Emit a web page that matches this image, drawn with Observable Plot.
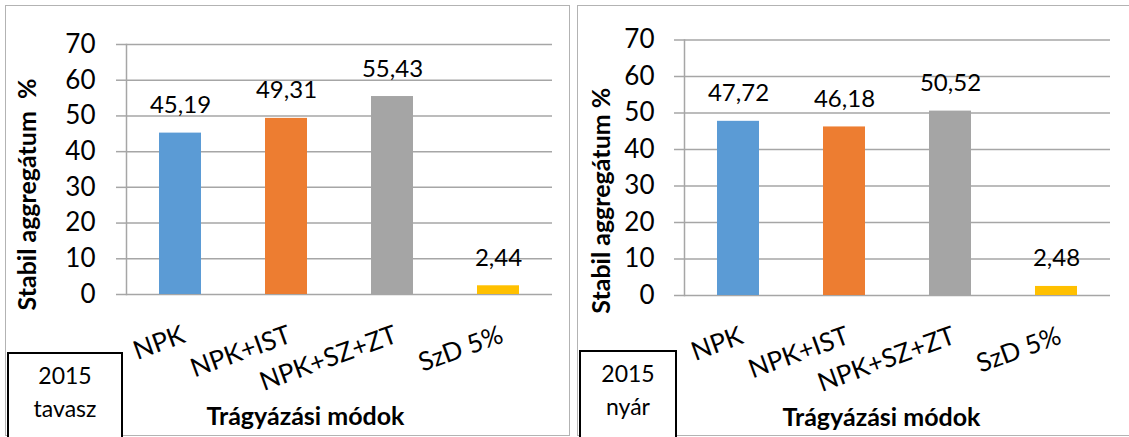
<!DOCTYPE html>
<html>
<head>
<meta charset="utf-8">
<script src="https://cdn.jsdelivr.net/npm/d3@7"></script>
<script src="https://cdn.jsdelivr.net/npm/@observablehq/plot@0.6"></script>
<style>
  html, body { margin: 0; padding: 0; background: #fff; }
  body { width: 1129px; height: 437px; position: relative; overflow: hidden; font-family: Lato, "Open Sans", sans-serif; }
  .panel { position: absolute; border: 1.5px solid #b3b3b3; box-sizing: border-box; }
  .chart { position: absolute; top: 0; }
  .box { position: absolute; border: 2px solid #000; box-sizing: border-box; background: #fff;
         font-size: 23px; text-align: center; line-height: 33px; color: #000; padding-top: 5px; }
</style>
</head>
<body>
<div class="panel" style="left:5px; top:5px; width:565px; height:431px;"></div>
<div class="panel" style="left:577px; top:5px; width:560px; height:431px;"></div>
<div id="c1" class="chart" style="left:0px;"></div>
<div id="c2" class="chart" style="left:572px;"></div>
<div class="box" id="b1" style="left:7px; top:352px; width:116px; height:90px;"></div>
<div class="box" id="b2" style="left:579px; top:350px; width:98px; height:92px;"></div>
<script>
const categories = ["NPK", "NPK+IST", "NPK+SZ+ZT", "SzD 5%"];
const tavasz = [45.19, 49.31, 55.43, 2.44];
const nyar = [47.72, 46.18, 50.52, 2.48];
const barColors = ["#5B9BD5", "#ED7D31", "#A5A5A5", "#FFC000"];
const yTicks = [0, 10, 20, 30, 40, 50, 60, 70];
const yTitles = ["Stabil aggregátum\u00a0 %", "Stabil aggregátum %"];
const xTitle = "Trágyázási módok";
const boxLabels = [["2015", "tavasz"], ["2015", "nyár"]];

const fmt = v => v.toFixed(2).replace(".", ",");
const grid = "#a6a6a6";

function chart(values, yTitle, o) {
  const data = categories.map((c, i) => ({cat: c, value: values[i], color: barColors[i]}));
  return Plot.plot({
    width: o.width, height: 437,
    marginLeft: o.ml, marginRight: o.mr, marginTop: o.mt, marginBottom: o.mb,
    style: {fontFamily: "Lato", background: "transparent", color: "#000"},
    x: {domain: categories, paddingInner: 0.6, paddingOuter: 0.3, axis: null},
    y: {domain: [0, 70], axis: null},
    color: {type: "identity"},
    marks: [
      Plot.gridY(yTicks, {stroke: grid, strokeOpacity: 1, strokeWidth: 1.5}),
      Plot.axisY(yTicks, {tickSize: 10, tickPadding: o.tp, stroke: grid, strokeWidth: 1.5, fill: "#000", fontSize: 26, label: null, tickFormat: d => d}),
      Plot.frame({anchor: "left", stroke: grid, strokeWidth: 1.5}),
      Plot.barY(data, {x: "cat", y: "value", fill: "color"}),
      Plot.text(data, {x: "cat", y: "value", text: d => fmt(d.value), dy: -20, lineAnchor: "bottom", fontSize: 24, fill: "#000"}),
      Plot.text(data, {x: "cat", text: "cat", frameAnchor: "bottom", dy: 30, rotate: -20, textAnchor: "end", lineAnchor: "top", fontSize: 26, fill: "#000"}),
      Plot.text([xTitle], {text: d => d, frameAnchor: "bottom", dx: o.xtdx, dy: 130, lineAnchor: "bottom", fontSize: 25, fontWeight: "bold", fill: "#000"}),
      Plot.text([yTitle], {text: d => d, frameAnchor: "left", dx: o.ytdx, dy: o.ytdy, rotate: -90, textAnchor: "middle", lineAnchor: "middle", fontSize: 25, fontWeight: "bold", fill: "#000"})
    ]
  });
}

document.getElementById("c1").appendChild(chart(tavasz, yTitles[0], {width: 572, ml: 126, mr: 20, mt: 44, mb: 143, tp: 21, xtdx: -34, ytdx: -99, ytdy: 25}));
document.getElementById("c2").appendChild(chart(nyar, yTitles[1], {width: 557, ml: 112, mr: 19, mt: 39.5, mb: 142, tp: 20, xtdx: -16, ytdx: -83, ytdy: 33}));
document.getElementById("b1").innerHTML = boxLabels[0].join("<br>");
document.getElementById("b2").innerHTML = boxLabels[1].join("<br>");
</script>
</body>
</html>
